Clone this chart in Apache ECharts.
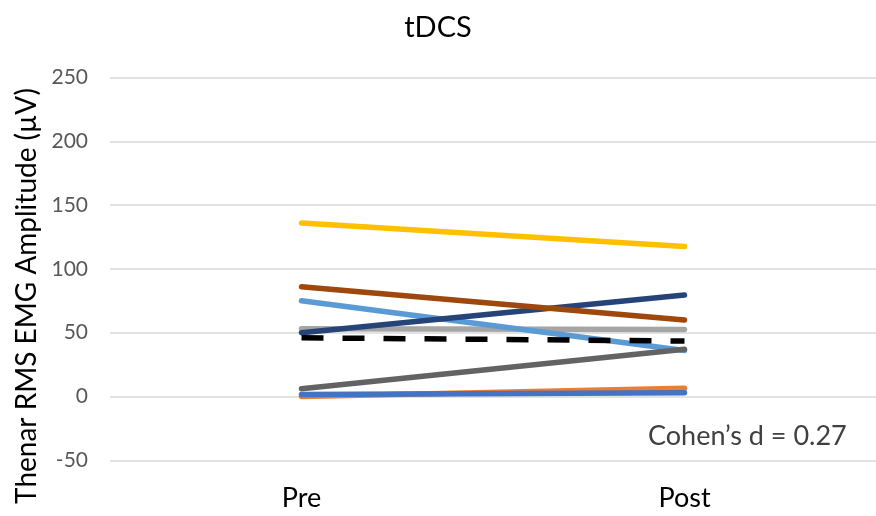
<!DOCTYPE html>
<html>
<head>
<meta charset="utf-8">
<script src="https://cdn.jsdelivr.net/npm/echarts@6/dist/echarts.min.js"></script>
<style>html,body{margin:0;padding:0;background:#fff}#c{width:876px;height:516px}</style>
</head>
<body>
<div id="c"></div>
<script>
var categories = ['Pre', 'Post'];
var yTicks = [-50, 0, 50, 100, 150, 200, 250];
var subjectGold = [136, 117.5];
var subjectBrown = [86, 60];
var subjectLightBlue = [75, 36];
var subjectNavy = [50, 79.5];
var subjectGray = [53, 52.5];
var subjectDarkGray = [6, 37];
var subjectOrange = [0, 6.5];
var subjectBlue = [1.5, 3];
var groupMean = [46, 43.5];

var FONT = 'Lato';
var lineSeries = [
  {name: 'S3', data: subjectGray, color: '#A5A5A5'},
  {name: 'S4', data: subjectGold, color: '#FFC000'},
  {name: 'S5', data: subjectLightBlue, color: '#5B9BD5'},
  {name: 'S7', data: subjectNavy, color: '#264478'},
  {name: 'S8', data: subjectBrown, color: '#9E480E'},
  {name: 'S9', data: subjectDarkGray, color: '#636363'},
  {name: 'S2', data: subjectOrange, color: '#ED7D31'},
  {name: 'S1', data: subjectBlue, color: '#4472C4'}
].map(function (s) {
  return {
    name: s.name, type: 'line', data: s.data, symbol: 'none', silent: true,
    lineStyle: {color: s.color, width: 5.5, cap: 'round'}
  };
});
lineSeries.push({
  name: 'Mean', type: 'line', data: groupMean, symbol: 'none', silent: true,
  lineStyle: {color: '#000', width: 5.5, type: [22, 19], cap: 'butt'}
});

var chart = echarts.init(document.getElementById('c'));
chart.setOption({
  animation: false,
  title: {text: 'tDCS', left: 'center', top: 8,
    textStyle: {fontFamily: FONT, fontSize: 29, fontWeight: 'normal', color: '#000'}},
  grid: {left: 110, right: -2, top: 77.5, bottom: 55.7},
  xAxis: {
    type: 'category', data: categories, boundaryGap: true,
    axisLine: {show: false}, axisTick: {show: false},
    axisLabel: {fontFamily: FONT, fontSize: 27, color: '#000', margin: 24}
  },
  yAxis: {
    type: 'value', min: -50, max: 250, interval: 50,
    axisLine: {show: false}, axisTick: {show: false},
    splitLine: {lineStyle: {color: '#D9D9D9', width: 1.5}},
    axisLabel: {fontFamily: FONT, fontSize: 21, color: '#595959', margin: 22,
      formatter: function (v) { return yTicks.indexOf(v) >= 0 ? String(v) : ''; }}
  },
  graphic: [
    {type: 'text', left: 648, top: 423,
      style: {text: 'Cohen\u2019s d = 0.27', fontFamily: FONT, fontSize: 27, fill: '#404040'}},
    {type: 'text', x: 27, y: 296, rotation: Math.PI / 2,
      style: {text: 'Thenar RMS EMG Amplitude (\u00B5V)', fontFamily: FONT, fontSize: 28,
        fill: '#000', align: 'center', verticalAlign: 'middle'}}
  ],
  series: lineSeries
});
</script>
</body>
</html>
